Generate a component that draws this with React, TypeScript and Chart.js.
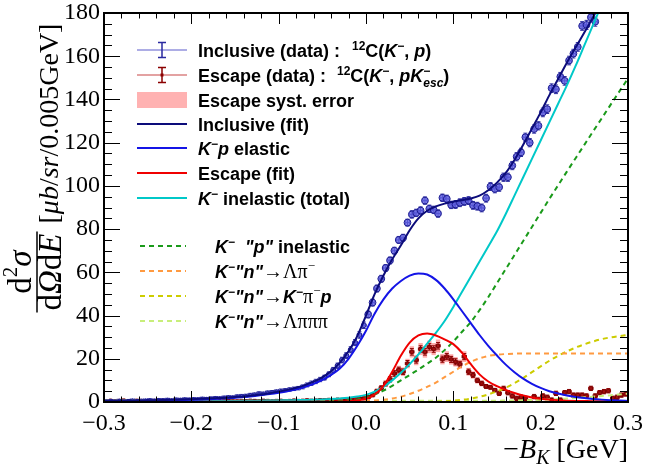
import React, { useEffect, useRef } from 'react';
import { Chart, registerables } from 'chart.js';

Chart.register(...registerables);

const W = 645;
const H = 469;

// ---------- fit curves (sampled every 0.01 GeV) ----------
const curveX = [-0.30,-0.29,-0.28,-0.27,-0.26,-0.25,-0.24,-0.23,-0.22,-0.21,-0.20,-0.19,-0.18,-0.17,-0.16,-0.15,-0.14,-0.13,-0.12,-0.11,-0.10,-0.09,-0.08,-0.07,-0.06,-0.05,-0.04,-0.03,-0.02,-0.01,0.00,0.01,0.02,0.03,0.04,0.05,0.06,0.07,0.08,0.09,0.10,0.11,0.12,0.13,0.14,0.15,0.16,0.17,0.18,0.19,0.20,0.21,0.22,0.23,0.24,0.25,0.26,0.27,0.28,0.29,0.30];

const inclusiveFit = [0.5,0.55,0.6,0.65,0.7,0.8,0.85,0.95,1.05,1.15,1.3,1.45,1.6,1.8,2.0,2.3,2.6,3.0,3.5,4.1,4.8,5.6,6.6,7.8,9.4,11.4,14.2,18.2,23.5,30.5,40,50,58.5,66,72.5,79.5,85,88.5,90.5,91.8,92.7,93.4,94.2,95.5,98,101.5,106,112,119,126.5,134,142,149.5,157,164,171,178,186,194,202,211];

const kpElastic = [0.3,0.35,0.4,0.45,0.5,0.55,0.6,0.7,0.8,0.9,1.0,1.15,1.3,1.5,1.7,2.0,2.3,2.7,3.2,3.7,4.3,5.0,5.9,7.0,8.4,10.2,12.5,15.5,20,26,33,41,47.5,52.5,56,58.5,59.5,59,56.5,52.5,47.5,42,36.5,31,26,21.5,17.3,13.8,10.8,8.4,6.5,5.0,3.9,3.0,2.3,1.8,1.4,1.1,0.85,0.65,0.5];

const escapeFit = [0.1,0.1,0.1,0.1,0.1,0.1,0.1,0.1,0.1,0.1,0.1,0.1,0.1,0.1,0.1,0.1,0.1,0.1,0.1,0.1,0.1,0.1,0.1,0.1,0.1,0.12,0.15,0.2,0.35,0.7,1.5,3.5,7.5,14,21.5,27.5,30.8,31.7,30.8,29,26.8,22.8,17.5,12.8,9.5,7.3,5.6,4.2,3.0,2.1,1.5,1.1,0.8,0.6,0.5,0.45,0.4,0.38,0.36,0.35,0.34];

const kInelasticTotal = [0.2,0.2,0.2,0.22,0.24,0.26,0.28,0.3,0.32,0.34,0.36,0.38,0.4,0.43,0.46,0.5,0.54,0.58,0.63,0.68,0.74,0.8,0.88,0.97,1.07,1.2,1.4,1.65,2.0,2.5,3.3,4.8,7.0,10.0,13.5,17.5,22.0,27.0,32.0,37.5,44,51,58,65,72,79,87,95.5,104,112.5,121,129.5,138,146.5,155.5,165,174.5,184,193,202,211];

const pInelastic = [0.05,0.05,0.05,0.05,0.05,0.05,0.05,0.05,0.05,0.05,0.05,0.05,0.05,0.05,0.05,0.05,0.05,0.05,0.05,0.05,0.05,0.08,0.1,0.12,0.15,0.2,0.3,0.5,0.8,1.2,2.0,3.5,5.3,7.5,10,12.5,15,17.7,20.5,24,28,32.5,37,42.5,48.5,55,61.5,68,74.5,81,87.5,94,100.3,106.6,112.8,119,125.2,131.3,137.5,143.6,149.7];

const nLambdaPi = [0.1,0.1,0.1,0.1,0.1,0.1,0.1,0.1,0.1,0.1,0.1,0.1,0.1,0.1,0.1,0.1,0.1,0.1,0.1,0.1,0.1,0.1,0.1,0.1,0.1,0.1,0.2,0.25,0.3,0.4,0.5,0.7,1.0,1.6,2.5,3.7,5.2,7.0,9.0,11.5,14.0,16.5,18.6,20.2,21.3,21.9,22.2,22.4,22.5,22.5,22.5,22.5,22.5,22.5,22.5,22.5,22.5,22.5,22.5,22.5,22.5];

const nKPiP = [0,0,0,0,0,0,0,0,0,0,0,0,0,0,0,0,0,0,0,0,0,0,0,0,0,0,0,0,0,0,0,0,0,0,0,0,0,0,0.1,0.3,0.6,1.0,1.6,2.4,3.5,4.9,6.6,8.7,11.1,13.8,16.5,19.1,21.4,23.4,25.2,26.7,28.0,29.1,29.9,30.5,31.0];

const nLambda3Pi = [0.6,0.6,0.6,0.6,0.6,0.6,0.6,0.6,0.6,0.6,0.6,0.6,0.6,0.6,0.6,0.6,0.6,0.6,0.6,0.6,0.6,0.6,0.6,0.6,0.6,0.6,0.6,0.6,0.6,0.6,0.6,0.6,0.6,0.6,0.6,0.6,0.6,0.6,0.6,0.6,0.6,0.6,0.6,0.6,0.6,0.62,0.65,0.7,0.78,0.88,1.0,1.15,1.35,1.6,1.85,2.15,2.45,2.8,3.15,3.5,3.85];

// ---------- data histograms (0.005 GeV bins from -0.3) ----------
const binLow = -0.3;
const binWidth = 0.005;

const inclusiveData = [0.6,0.7,0.5,0.8,0.6,0.7,0.9,0.6,0.8,0.9,1.0,0.8,1.1,1.0,1.2,0.9,1.3,1.2,1.4,1.3,1.5,1.4,1.7,1.6,1.8,2.0,1.9,2.2,2.4,2.3,2.7,2.9,3.0,3.4,3.6,4.1,4.0,4.5,4.7,5.0,5.3,5.5,5.8,6.1,6.4,7.0,7.9,8.7,9.5,10.4,11.3,12.8,14.8,16.8,19.4,21.5,24.2,27.5,31,35.5,40.5,46,52.5,57,62,65.5,70,75,76,83,86.8,87.5,88.6,93.2,89.4,88.9,87.2,94.5,94,91.2,91.4,92.2,92.8,93.2,91,90.6,89.8,94.3,99.7,98.6,99.4,104,104,109.4,113.5,115.5,122.5,120,126.3,127.8,134,135.5,145.2,144.7,150.5,148.6,158,161.2,164.3,174,174.5,178,176,184,188,192,195,199,203,206];

const inclusiveErr = [0.4,0.4,0.4,0.4,0.4,0.4,0.4,0.4,0.4,0.4,0.5,0.5,0.5,0.5,0.5,0.5,0.5,0.5,0.5,0.5,0.5,0.5,0.5,0.5,0.5,0.5,0.5,0.5,0.5,0.5,0.6,0.6,0.6,0.6,0.6,0.6,0.6,0.6,0.6,0.6,0.7,0.7,0.8,0.8,0.8,0.9,0.9,1.0,1.0,1.0,1.1,1.1,1.2,1.2,1.3,1.3,1.4,1.4,1.5,1.5,1.6,1.6,1.6,1.6,1.6,1.6,1.6,1.6,1.6,1.6,1.7,1.7,1.7,1.7,1.7,1.7,1.7,1.7,1.7,1.7,1.8,1.8,1.8,1.8,1.8,1.8,1.8,1.8,1.8,1.8,1.9,1.9,1.9,1.9,1.9,1.9,1.9,1.9,1.9,1.9,2.0,2.0,2.0,2.0,2.0,2.0,2.0,2.0,2.0,2.0,2.1,2.1,2.1,2.1,2.1,2.1,2.1,2.1,2.1,2.1];

const escapeData = [0.4,0.6,0.3,0.5,0.7,0.4,0.3,0.6,0.5,0.4,0.3,0.5,0.4,0.6,0.3,0.5,0.4,0.3,0.6,0.4,0.5,0.3,0.4,0.6,0.5,0.3,0.4,0.5,0.6,0.4,0.3,0.5,0.4,0.6,0.5,0.4,0.6,0.5,0.3,0.5,0.6,0.4,0.5,0.7,0.5,0.6,0.8,0.6,0.7,0.9,0.8,1.0,0.9,1.1,1.0,1.2,1.4,1.3,1.6,1.7,2.2,3.2,5.0,6.5,8.5,10.5,13.2,14.8,14.0,17.8,23.2,19.4,24.5,23.2,25.5,24.5,26.0,19.8,21.0,19.7,18.6,17.5,21.0,14.0,12.5,10.0,8.6,7.2,6.8,5.5,4.0,6.3,4.3,2.8,1.7,2.2,1.7,0.2,2.5,1.2,2.8,2.2,0.9,4.0,0.9,4.3,4.8,3.2,3.2,3.2,2.8,6.3,2.8,4.3,4.8,5.2,1.7,2.2,3.2,3.7];

const escapeErr = [0.3,0.3,0.3,0.3,0.3,0.3,0.3,0.3,0.3,0.3,0.3,0.3,0.3,0.3,0.3,0.3,0.3,0.3,0.3,0.3,0.3,0.3,0.3,0.3,0.3,0.3,0.3,0.3,0.3,0.3,0.3,0.3,0.3,0.3,0.3,0.3,0.3,0.3,0.3,0.3,0.3,0.3,0.3,0.3,0.3,0.3,0.3,0.3,0.3,0.3,0.4,0.4,0.4,0.4,0.5,0.5,0.5,0.5,0.5,0.5,0.7,0.8,0.9,1.0,1.1,1.2,1.3,1.3,1.3,1.4,1.5,1.4,1.5,1.5,1.5,1.5,1.5,1.4,1.4,1.4,1.4,1.3,1.4,1.2,1.1,1.0,1.0,0.9,0.9,0.8,1.0,1.0,1.0,1.0,1.0,1.0,1.0,1.0,1.0,1.0,1.0,1.0,1.0,1.0,1.0,1.0,1.0,1.0,1.0,1.0,1.0,1.0,1.0,1.0,1.0,1.0,1.0,1.0,1.0,1.0];

const escapeSyst = [0.2,0.2,0.2,0.2,0.2,0.2,0.2,0.2,0.2,0.2,0.2,0.2,0.2,0.2,0.2,0.2,0.2,0.2,0.2,0.2,0.2,0.2,0.2,0.2,0.2,0.2,0.2,0.2,0.2,0.2,0.2,0.2,0.2,0.2,0.2,0.2,0.2,0.2,0.2,0.2,0.2,0.2,0.2,0.2,0.2,0.2,0.2,0.2,0.2,0.2,0.3,0.3,0.3,0.3,0.3,0.3,0.4,0.4,0.4,0.4,0.6,0.7,1.0,1.1,1.4,1.5,1.8,2.0,2.0,2.2,2.6,2.4,2.8,2.7,2.9,2.8,2.9,2.4,2.5,2.4,2.2,2.1,2.5,1.8,1.7,1.4,1.3,1.1,1.1,1.0,1.0,1.0,1.0,1.0,1.0,1.0,1.0,1.0,1.0,1.0,1.0,1.0,1.0,1.0,1.0,1.0,1.0,1.0,1.0,1.0,1.0,1.0,1.0,1.0,1.0,1.0,1.0,1.0,1.0,1.0];

// ---------- axes ----------
const xTickLabels = ['\u22120.3', '\u22120.2', '\u22120.1', '0.0', '0.1', '0.2', '0.3'];
const yTickLabels = ['0', '20', '40', '60', '80', '100', '120', '140', '160', '180'];
const X_MIN = -0.3, X_MAX = 0.3, Y_MIN = 0, Y_MAX = 180;

// ---------- colours ----------
const C_NAVY = '#0c0c7a';
const C_BLUE = '#1414e6';
const C_RED = '#f00000';
const C_CYAN = '#00c8c8';
const C_GREEN = '#1a9a1a';
const C_ORANGE = '#ff9a40';
const C_YELLOW = '#cccc00';
const C_LGREEN = '#c8ee7a';
const C_INC_ERR = '#2a2aa0';
const C_ESC_ERR = '#8b0000';
const C_SYST = 'rgba(255,150,150,0.8)';

const binCenters = inclusiveData.map((_, i) => binLow + binWidth * (i + 0.5));

function curve(vals: number[]) {
  return vals.map((v, i) => ({ x: curveX[i], y: v }));
}

type Seg = { t: string; f: string; dy?: number; hold?: boolean };

function drawSegs(ctx: CanvasRenderingContext2D, x: number, y: number, segs: Seg[], draw = true) {
  let cx = x;
  let held = 0;
  for (const s of segs) {
    ctx.font = s.f;
    if (draw) ctx.fillText(s.t, cx, y + (s.dy || 0));
    const w = ctx.measureText(s.t).width;
    if (s.hold) { held = w; continue; }
    cx += Math.max(w, held);
    held = 0;
  }
  return cx - x;
}

const LB = 'bold 18px "Liberation Sans"';
const LBI = 'italic bold 18px "Liberation Sans"';
const LSUP = 'bold 12px "Liberation Sans"';
const LSUBI = 'italic bold 12px "Liberation Sans"';
const LSER = '20px "Liberation Serif"';
const LSERSUP = '13px "Liberation Serif"';
const MINUS = '\u2212';

const errorBarPlugin = {
  id: 'errorBars',
  beforeDatasetDraw(chart: any, args: any) {
    const ds: any = chart.data.datasets[args.index];
    if (!ds.errY) return;
    const { ctx, chartArea: a } = chart;
    const xs = chart.scales.x, ys = chart.scales.y;
    ctx.save();
    ctx.beginPath();
    ctx.rect(a.left, a.top, a.right - a.left, a.bottom - a.top);
    ctx.clip();
    if (ds.syst) {
      ctx.fillStyle = ds.systColor;
      ds.data.forEach((p: any, i: number) => {
        const s = ds.syst[i];
        const x0 = xs.getPixelForValue(p.x - ds.halfW);
        const x1 = xs.getPixelForValue(p.x + ds.halfW);
        const y0 = ys.getPixelForValue(p.y + s);
        const y1 = ys.getPixelForValue(p.y - s);
        ctx.fillRect(x0, y0, x1 - x0, y1 - y0);
      });
    }
    ctx.strokeStyle = ds.errColor;
    ctx.lineWidth = 1;
    ctx.beginPath();
    ds.data.forEach((p: any, i: number) => {
      const e = ds.errY[i];
      const px = xs.getPixelForValue(p.x);
      const py = ys.getPixelForValue(p.y);
      const xl = xs.getPixelForValue(p.x - ds.halfW);
      const xr = xs.getPixelForValue(p.x + ds.halfW);
      const yt = ys.getPixelForValue(p.y + e);
      const yb = ys.getPixelForValue(p.y - e);
      ctx.moveTo(xl, py); ctx.lineTo(xr, py);
      ctx.moveTo(xl, py - 1.5); ctx.lineTo(xl, py + 1.5);
      ctx.moveTo(xr, py - 1.5); ctx.lineTo(xr, py + 1.5);
      ctx.moveTo(px, yt); ctx.lineTo(px, yb);
      ctx.moveTo(px - 2, yt); ctx.lineTo(px + 2, yt);
      ctx.moveTo(px - 2, yb); ctx.lineTo(px + 2, yb);
    });
    ctx.stroke();
    ctx.restore();
  },
};

const framePlugin = {
  id: 'rootFrame',
  afterDatasetsDraw(chart: any) {
    const { ctx, chartArea: a } = chart;
    const xs = chart.scales.x, ys = chart.scales.y;
    ctx.save();
    ctx.strokeStyle = '#000';
    ctx.lineWidth = 1;
    ctx.beginPath();
    for (let k = 0; k <= 30; k++) {
      const v = X_MIN + k * 0.02;
      const px = Math.round(xs.getPixelForValue(v)) + 0.5;
      const len = k % 5 === 0 ? 11 : 5.5;
      ctx.moveTo(px, a.bottom); ctx.lineTo(px, a.bottom - len);
      ctx.moveTo(px, a.top); ctx.lineTo(px, a.top + len);
    }
    for (let k = 0; k <= 36; k++) {
      const v = k * 5;
      const py = Math.round(ys.getPixelForValue(v)) + 0.5;
      const len = k % 4 === 0 ? 16 : 8;
      ctx.moveTo(a.left, py); ctx.lineTo(a.left + len, py);
      ctx.moveTo(a.right, py); ctx.lineTo(a.right - len, py);
    }
    ctx.stroke();
    ctx.lineWidth = 2;
    ctx.strokeRect(a.left, a.top, a.right - a.left, a.bottom - a.top);
    ctx.restore();
  },
};

function hLine(ctx: CanvasRenderingContext2D, x0: number, x1: number, y: number, color: string, dash: number[] = [], lw = 2) {
  ctx.save();
  ctx.strokeStyle = color;
  ctx.lineWidth = lw;
  ctx.setLineDash(dash);
  ctx.beginPath();
  ctx.moveTo(x0, y);
  ctx.lineTo(x1, y);
  ctx.stroke();
  ctx.restore();
}

function errSample(ctx: CanvasRenderingContext2D, y: number, lineColor: string, barColor: string, marker: boolean) {
  hLine(ctx, 137, 187, y, lineColor, [], 1.5);
  ctx.save();
  ctx.strokeStyle = barColor;
  ctx.lineWidth = 1.5;
  ctx.beginPath();
  ctx.moveTo(162, y - 7.5); ctx.lineTo(162, y + 7.5);
  ctx.moveTo(158, y - 7.5); ctx.lineTo(166, y - 7.5);
  ctx.moveTo(158, y + 7.5); ctx.lineTo(166, y + 7.5);
  ctx.stroke();
  if (marker) {
    ctx.fillStyle = barColor;
    ctx.fillRect(160.5, y - 1.5, 3, 3);
  }
  ctx.restore();
}

const annotationPlugin = {
  id: 'annotations',
  afterDraw(chart: any) {
    const ctx: CanvasRenderingContext2D = chart.ctx;
    const a = chart.chartArea;
    ctx.save();
    ctx.fillStyle = '#000';
    ctx.textBaseline = 'alphabetic';
    ctx.textAlign = 'left';

    // ---- legend 1 ----
    const rows1 = [50, 75, 100, 124, 148, 173, 198];
    const tx = 198;
    const off = 6.5;
    errSample(ctx, rows1[0], 'rgba(110,110,210,0.75)', C_INC_ERR, false);
    drawSegs(ctx, tx, rows1[0] + off, [{ t: 'Inclusive (data) :', f: LB }]);
    drawSegs(ctx, 352, rows1[0] + off, [
      { t: '12', f: LSUP, dy: -7 }, { t: 'C(', f: LB }, { t: 'K', f: LBI }, { t: MINUS, f: LSUP, dy: -7 },
      { t: ', ', f: LB }, { t: 'p', f: LBI }, { t: ')', f: LB },
    ]);
    errSample(ctx, rows1[1], 'rgba(205,90,90,0.75)', C_ESC_ERR, true);
    drawSegs(ctx, tx, rows1[1] + off, [{ t: 'Escape (data) :', f: LB }]);
    drawSegs(ctx, 337, rows1[1] + off, [
      { t: '12', f: LSUP, dy: -7 }, { t: 'C(', f: LB }, { t: 'K', f: LBI }, { t: MINUS, f: LSUP, dy: -7 },
      { t: ', ', f: LB }, { t: 'pK', f: LBI }, { t: MINUS, f: LSUP, dy: -7, hold: true }, { t: 'esc', f: LSUBI, dy: 5 },
      { t: ')', f: LB },
    ]);
    ctx.fillStyle = 'rgb(255,178,178)';
    ctx.fillRect(137, rows1[2] - 8, 50, 16);
    ctx.fillStyle = '#000';
    drawSegs(ctx, tx, rows1[2] + off, [{ t: 'Escape syst. error', f: LB }]);
    hLine(ctx, 137, 187, rows1[3], C_NAVY);
    drawSegs(ctx, tx, rows1[3] + off, [{ t: 'Inclusive (fit)', f: LB }]);
    hLine(ctx, 137, 187, rows1[4], C_BLUE);
    drawSegs(ctx, tx, rows1[4] + off, [{ t: 'K', f: LBI }, { t: MINUS, f: LSUP, dy: -7 }, { t: 'p', f: LBI }, { t: ' elastic', f: LB }]);
    hLine(ctx, 137, 187, rows1[5], C_RED);
    drawSegs(ctx, tx, rows1[5] + off, [{ t: 'Escape (fit)', f: LB }]);
    hLine(ctx, 137, 187, rows1[6], C_CYAN);
    drawSegs(ctx, tx, rows1[6] + off, [{ t: 'K', f: LBI }, { t: MINUS, f: LSUP, dy: -7 }, { t: ' inelastic (total)', f: LB }]);

    // ---- legend 2 ----
    const rows2 = [246, 271, 296, 321];
    const tx2 = 215;
    const dash = [5, 4];
    hLine(ctx, 140, 186, rows2[0], C_GREEN, dash);
    drawSegs(ctx, tx2, rows2[0] + off, [
      { t: 'K', f: LBI }, { t: MINUS, f: LSUP, dy: -7 }, { t: '  "p"', f: LBI }, { t: ' inelastic', f: LB },
    ]);
    hLine(ctx, 140, 186, rows2[1], C_ORANGE, dash);
    drawSegs(ctx, tx2, rows2[1] + off, [
      { t: 'K', f: LBI }, { t: MINUS, f: LSUP, dy: -7 }, { t: '"n"', f: LBI }, { t: '\u2192\u039b\u03c0', f: LSER },
      { t: MINUS, f: LSERSUP, dy: -8 },
    ]);
    hLine(ctx, 140, 186, rows2[2], C_YELLOW, dash);
    drawSegs(ctx, tx2, rows2[2] + off, [
      { t: 'K', f: LBI }, { t: MINUS, f: LSUP, dy: -7 }, { t: '"n"', f: LBI }, { t: '\u2192', f: LSER },
      { t: 'K', f: LBI }, { t: MINUS, f: LSUP, dy: -7 }, { t: '\u03c0', f: LSER }, { t: MINUS, f: LSERSUP, dy: -8 },
      { t: 'p', f: LBI },
    ]);
    hLine(ctx, 140, 186, rows2[3], C_LGREEN, dash);
    drawSegs(ctx, tx2, rows2[3] + off, [
      { t: 'K', f: LBI }, { t: MINUS, f: LSUP, dy: -7 }, { t: '"n"', f: LBI }, { t: '\u2192\u039b\u03c0\u03c0\u03c0', f: LSER },
    ]);

    // ---- x title ----
    const XF = '28px "Liberation Serif"';
    const XFI = 'italic 28px "Liberation Serif"';
    const XFS = 'italic 20px "Liberation Serif"';
    const xSegs: Seg[] = [{ t: MINUS, f: XF }, { t: 'B', f: XFI }, { t: 'K', f: XFS, dy: 6 }, { t: ' [GeV]', f: XF }];
    const xw = drawSegs(ctx, 0, 0, xSegs, false);
    drawSegs(ctx, a.right - xw, 458, xSegs);

    // ---- y title ----
    ctx.save();
    ctx.translate(37, a.bottom);
    ctx.rotate(-Math.PI / 2);
    const FF = '33px "Liberation Serif"';
    const FFI = 'italic 33px "Liberation Serif"';
    const FFS = '21px "Liberation Serif"';
    const num: Seg[] = [{ t: 'd', f: FF }, { t: '2', f: FFS, dy: -14 }, { t: '\u03c3', f: FFI }];
    const den: Seg[] = [{ t: 'd', f: FF }, { t: '\u03a9', f: FFI }, { t: 'd', f: FF }, { t: 'E', f: FFI }];
    const nw = drawSegs(ctx, 0, 0, num, false);
    const dw = drawSegs(ctx, 0, 0, den, false);
    const fc = 130;
    drawSegs(ctx, fc - nw / 2, -6, num);
    drawSegs(ctx, fc - dw / 2, 24, den);
    const fw = Math.max(nw, dw) + 4;
    ctx.strokeStyle = '#000';
    ctx.lineWidth = 1.5;
    ctx.beginPath();
    ctx.moveTo(fc - fw / 2, 0);
    ctx.lineTo(fc + fw / 2, 0);
    ctx.stroke();
    const BF = '28px "Liberation Serif"';
    const BFI = 'italic 28px "Liberation Serif"';
    drawSegs(ctx, fc + fw / 2 + 8, 21, [
      { t: '[', f: BF }, { t: '\u03bcb', f: BFI }, { t: '/', f: BF }, { t: 'sr', f: BFI }, { t: '/0.005GeV]', f: BF },
    ]);
    ctx.restore();

    ctx.restore();
  },
};

function lineDs(label: string, vals: number[], color: string, dash: number[] = []) {
  return {
    label,
    data: curve(vals),
    showLine: true,
    borderColor: color,
    backgroundColor: color,
    borderWidth: 2,
    borderDash: dash,
    pointRadius: 0,
    cubicInterpolationMode: 'monotone',
    fill: false,
  };
}

export default function App() {
  const canvasRef = useRef<HTMLCanvasElement | null>(null);

  useEffect(() => {
    if (!canvasRef.current) return;
    const dash = [5, 4];
    const chart = new Chart(canvasRef.current, {
      type: 'scatter',
      data: {
        datasets: [
          lineDs('Inclusive (fit)', inclusiveFit, C_NAVY),
          lineDs('K- p elastic', kpElastic, C_BLUE),
          lineDs('Escape (fit)', escapeFit, C_RED),
          lineDs('K- inelastic (total)', kInelasticTotal, C_CYAN),
          lineDs('K- "p" inelastic', pInelastic, C_GREEN, dash),
          lineDs('K- "n" -> Lambda pi-', nLambdaPi, C_ORANGE, dash),
          lineDs('K- "n" -> K- pi- p', nKPiP, C_YELLOW, dash),
          lineDs('K- "n" -> Lambda pi pi pi', nLambda3Pi, C_LGREEN, dash),
          {
            label: 'Inclusive (data)',
            data: inclusiveData.map((v, i) => ({ x: binCenters[i], y: v })),
            showLine: false,
            pointRadius: (c: any) => (c.dataIndex < 50 ? 1.2 : c.dataIndex < 60 ? 2.4 : 3.4),
            pointStyle: 'circle',
            pointBackgroundColor: 'rgba(95,95,225,0.8)',
            pointBorderColor: '#1c1c90',
            pointBorderWidth: 1,
            errY: inclusiveErr,
            halfW: binWidth / 2,
            errColor: C_INC_ERR,
          } as any,
          {
            label: 'Escape (data)',
            data: escapeData.map((v, i) => ({ x: binCenters[i], y: v })),
            showLine: false,
            pointRadius: 2.2,
            pointStyle: 'rect',
            pointBackgroundColor: 'rgba(165,15,15,0.95)',
            pointBorderColor: '#7a0000',
            pointBorderWidth: 1,
            errY: escapeErr,
            syst: escapeSyst,
            systColor: C_SYST,
            halfW: binWidth / 2,
            errColor: C_ESC_ERR,
          } as any,
        ],
      },
      options: {
        animation: false,
        responsive: false,
        events: [],
        layout: { padding: { left: 8, right: W - 628, top: 13, bottom: 0 } },
        plugins: {
          legend: { display: false },
          tooltip: { enabled: false },
          title: { display: false },
        },
        scales: {
          x: {
            type: 'linear',
            min: X_MIN,
            max: X_MAX,
            grid: { display: false, drawTicks: false },
            border: { display: false },
            ticks: {
              stepSize: 0.1,
              autoSkip: false,
              maxRotation: 0,
              padding: 7,
              color: '#000',
              font: { family: 'Liberation Serif', size: 24 },
              callback: (v: any) => xTickLabels[Math.round(Number(v) * 10) + 3] ?? '',
            },
            afterFit: (s: any) => { s.height = H - 402; s.paddingLeft = 0; s.paddingRight = 0; },
          },
          y: {
            type: 'linear',
            min: Y_MIN,
            max: Y_MAX,
            grid: { display: false, drawTicks: false },
            border: { display: false },
            ticks: {
              stepSize: 20,
              autoSkip: false,
              padding: 4,
              color: '#000',
              font: { family: 'Liberation Serif', size: 24 },
              callback: (v: any) => yTickLabels[Math.round(Number(v) / 20)] ?? '',
            },
            afterFit: (s: any) => { s.width = 96; s.paddingTop = 0; s.paddingBottom = 0; },
          },
        },
      } as any,
      plugins: [errorBarPlugin, framePlugin, annotationPlugin],
    });
    return () => chart.destroy();
  }, []);

  return (
    <div style={{ position: 'absolute', left: 0, top: 0, width: W, height: H, background: '#fff' }}>
      <canvas ref={canvasRef} width={W} height={H} style={{ width: W, height: H, display: 'block' }} />
    </div>
  );
}
